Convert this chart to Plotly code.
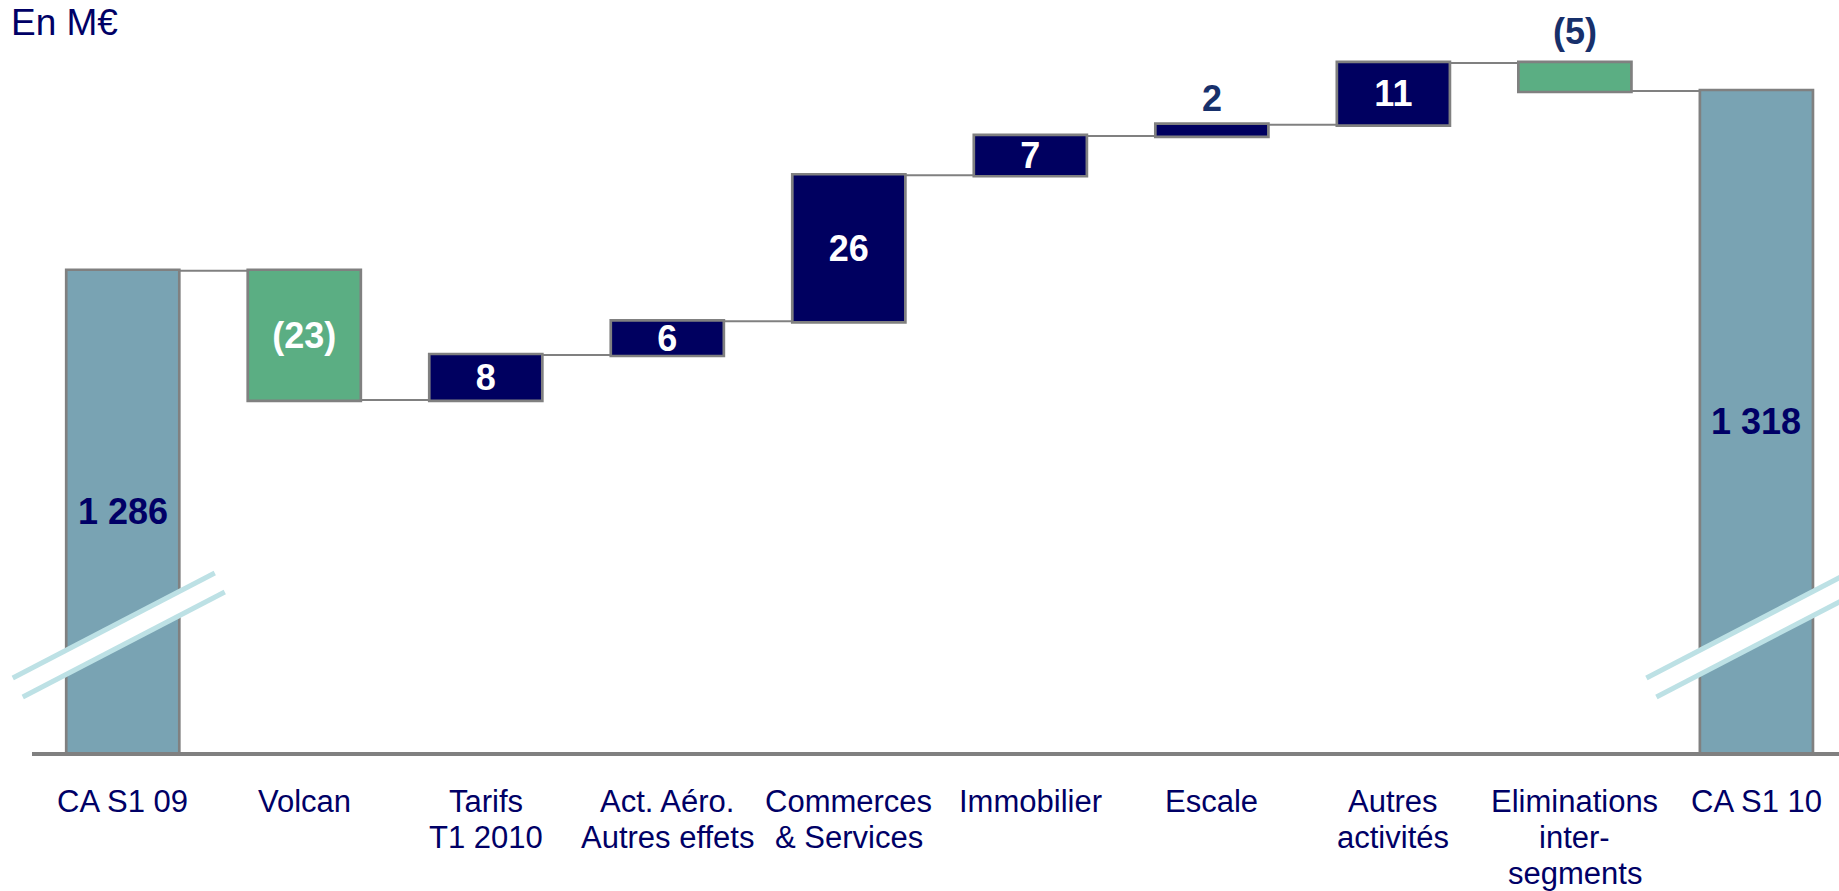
import plotly.graph_objects as go

# ---------------- data ----------------
categories = ["CA S1 09", "Volcan", "Tarifs<br>T1 2010", "Act. Aéro.<br>Autres effets",
              "Commerces<br>& Services", "Immobilier", "Escale", "Autres<br>activités",
              "Eliminations<br>inter-<br>segments", "CA S1 10"]
values = [1286, -23, 8, 6, 26, 7, 2, 11, -5, 1318]
measures = ["absolute", "relative", "relative", "relative", "relative",
            "relative", "relative", "relative", "relative", "total"]
label_inside = [True, True, True, True, True, True, False, True, False, True]

# ---------------- style ----------------
NAVY = "#000066"
NAVY2 = "#17306b"
TOTAL_C = "#79a3b3"
UP_C = "#000060"
DOWN_C = "#5bae83"
EDGE = "#808080"
BREAK_C = "#bde1e5"
FONT = "Liberation Sans, Arial, sans-serif"

W, H = 1839, 891
ML, MR, MT, MB = 32, 0, 0, 139
X_RANGE = [-0.5, 9.455]
Y_RANGE = [1200.33, 1334.2]


def fmt(v):
    s = f"{abs(v):,}".replace(",", " ")
    return f"({s})" if v < 0 else s


texts = [fmt(v) for v in values]
text_pos = ["inside" if (ins and m == "relative") else "none"
            for ins, m in zip(label_inside, measures)]

fig = go.Figure()
fig.add_trace(go.Waterfall(
    x=list(range(len(categories))),
    y=values,
    measure=measures,
    text=texts,
    textposition=text_pos,
    insidetextanchor="middle",
    constraintext="none",
    textangle=0,
    textfont=dict(family=FONT, size=36, color="white", weight="bold"),
    width=0.623,
    increasing=dict(marker=dict(color=UP_C, line=dict(color=EDGE, width=2.7))),
    decreasing=dict(marker=dict(color=DOWN_C, line=dict(color=EDGE, width=2.7))),
    totals=dict(marker=dict(color=TOTAL_C, line=dict(color=EDGE, width=2.7))),
    connector=dict(mode="between", line=dict(color=EDGE, width=2)),
    hoverinfo="skip",
    showlegend=False,
))

annotations = []

running = 0
for i, (v, m) in enumerate(zip(values, measures)):
    if m == "absolute":
        start, end = 0, v
        running = v
    elif m == "total":
        start, end = 0, running
    else:
        start, end = running, running + v
        running = end
    if m != "relative":
        lo = max(min(start, end), Y_RANGE[0])
        hi = max(start, end)
        annotations.append(dict(
            x=i, y=(lo + hi) / 2, xref="x", yref="y",
            text=f"<b>{texts[i]}</b>", showarrow=False, yanchor="middle",
            font=dict(family=FONT, size=36, color=NAVY)))
    elif not label_inside[i]:
        annotations.append(dict(
            x=i, y=max(start, end), xref="x", yref="y",
            text=f"<b>{texts[i]}</b>", showarrow=False,
            yanchor="bottom", yshift=4 if v > 0 else 9,
            font=dict(family=FONT, size=36, color=NAVY2)))

LINE_H = 36
for i, cat in enumerate(categories):
    for k, line in enumerate(cat.split("<br>")):
        annotations.append(dict(
            x=i, y=0, xref="x", yref="paper", text=line, showarrow=False,
            yanchor="top", yshift=-30 - k * LINE_H,
            font=dict(family=FONT, size=31, color=NAVY)))

annotations.append(dict(
    x=(9 - ML) / (W - ML - MR), y=1, xref="paper", yref="paper",
    xanchor="left", yanchor="top", text="En M€", showarrow=False,
    font=dict(family=FONT, size=37, color=NAVY)))

pw = W - ML - MR
ph = H - MT - MB
px_per_unit = pw / (X_RANGE[1] - X_RANGE[0])


def to_paper(i, dx_px, y_px):
    cx = (i - X_RANGE[0]) * px_per_unit + dx_px
    return cx / pw, (ph - y_px) / ph


shapes = []
for i in [0, len(categories) - 1]:
    a1 = to_paper(i, -110, 678)
    b1 = to_paper(i, 92, 573)
    a2 = to_paper(i, -100, 697)
    b2 = to_paper(i, 102, 592)
    shapes.append(dict(type="path", xref="paper", yref="paper", layer="above",
                       path=f"M{a1[0]},{a1[1]} L{b1[0]},{b1[1]} L{b2[0]},{b2[1]} L{a2[0]},{a2[1]} Z",
                       fillcolor="white", line=dict(width=0)))
    for a, b in [(a1, b1), (a2, b2)]:
        shapes.append(dict(type="line", xref="paper", yref="paper", layer="above",
                           x0=a[0], y0=a[1], x1=b[0], y1=b[1],
                           line=dict(color=BREAK_C, width=5)))

fig.update_layout(
    width=W, height=H,
    margin=dict(l=ML, r=MR, t=MT, b=MB, pad=0),
    paper_bgcolor="white", plot_bgcolor="white",
    xaxis=dict(range=X_RANGE, showticklabels=False, ticks="", showgrid=False,
               zeroline=False, showline=True, linecolor=EDGE, linewidth=4,
               fixedrange=True),
    yaxis=dict(range=Y_RANGE, visible=False, showgrid=False, zeroline=False,
               fixedrange=True),
    annotations=annotations,
    shapes=shapes,
    font=dict(family=FONT),
)

fig.write_html("out.html", config={"displayModeBar": False})
